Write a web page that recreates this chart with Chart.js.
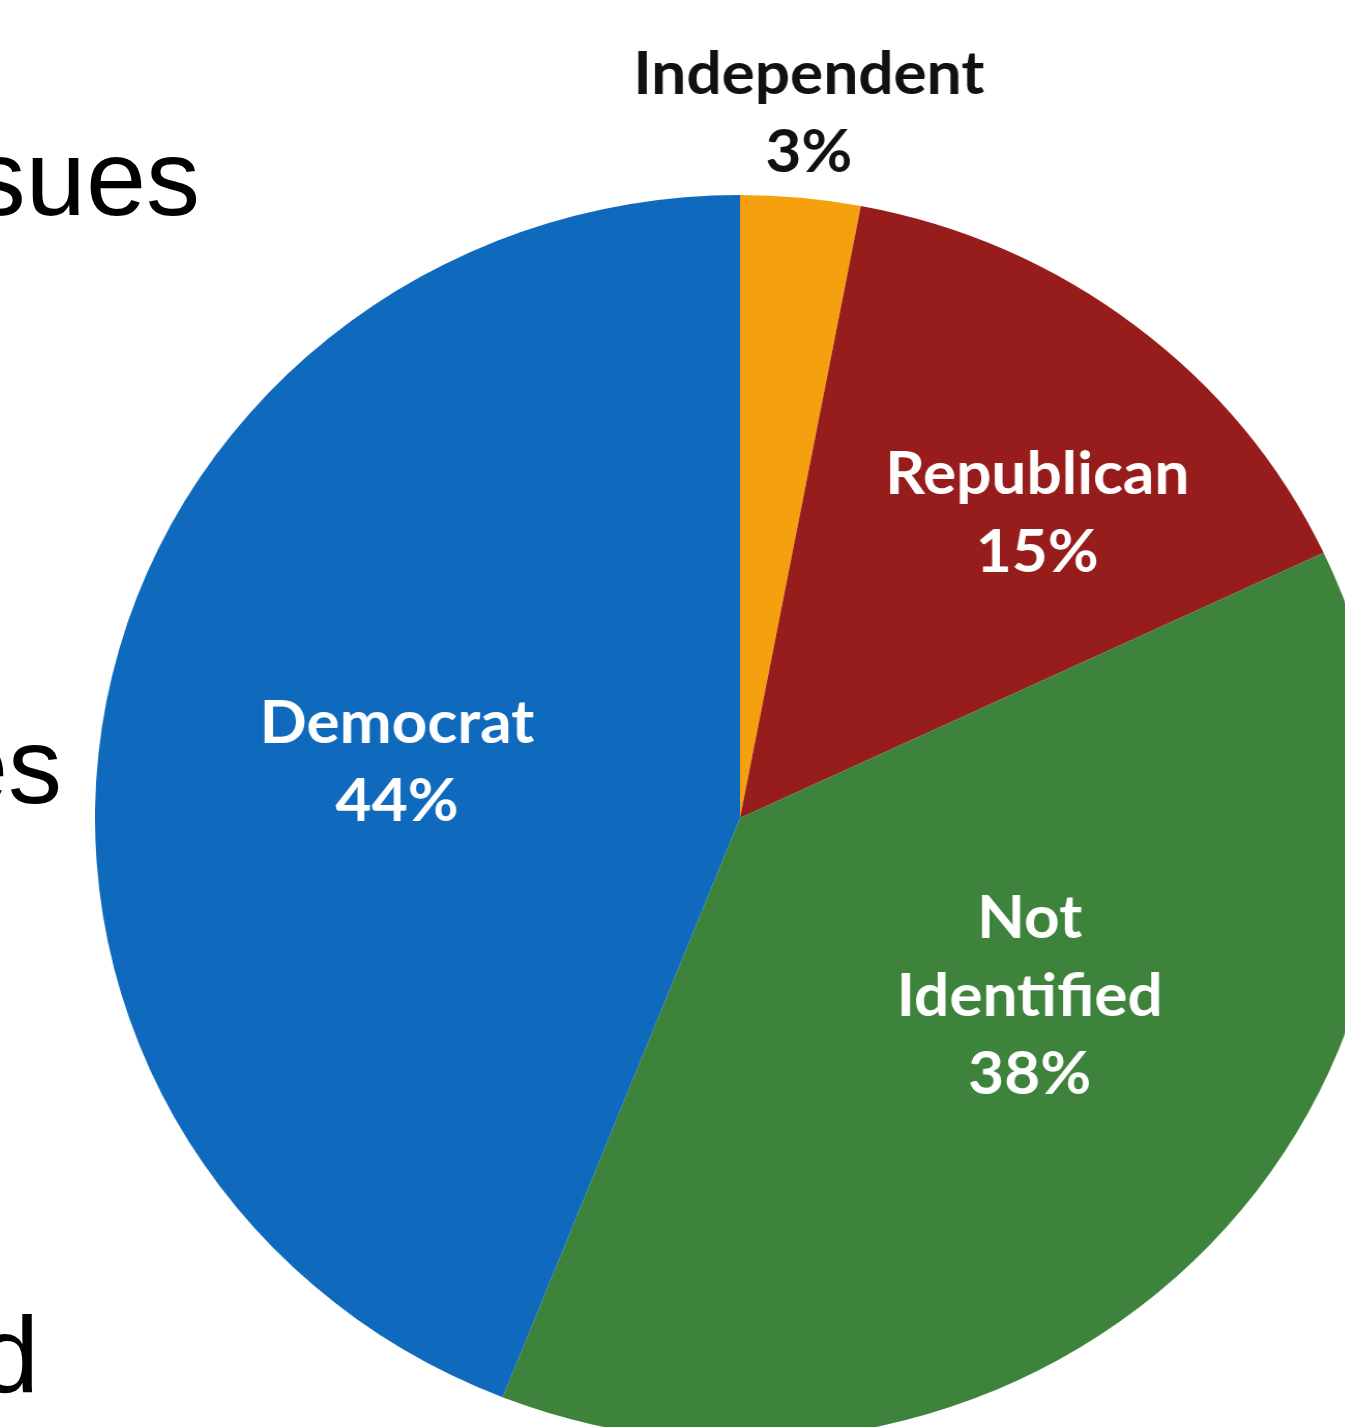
<!DOCTYPE html>
<html>
<head>
<meta charset="utf-8">
<script src="https://cdn.jsdelivr.net/npm/chart.js@4.4.1/dist/chart.umd.min.js"></script>
<style>
  html, body { margin: 0; padding: 0; background: #fff; overflow: hidden; width: 1345px; height: 1427px; }
  #wrap { position: absolute; left: 117px; top: 0px; width: 1246px; height: 1441px;
          transform: scaleX(1.0353); transform-origin: 623px 818px; }
  .slide { position: absolute; font-family: "Liberation Sans", Arial, sans-serif; font-size: 108px;
           line-height: 108px; color: #000; white-space: nowrap; text-align: right; }
</style>
</head>
<body>
<div class="slide" style="right:1145px; top:124px;">sues</div>
<div class="slide" style="right:1283px; top:712px;">es</div>
<div class="slide" style="right:1306px; top:1301px;">d</div>
<div id="wrap"><canvas id="pieChart" width="1246" height="1441"></canvas></div>
<script>
const partidos = ["Independent", "Republican", "Not Identified", "Democrat"];
const porcentajes = [3, 15, 38, 44];
const etiquetas = [["Independent", "3%"], ["Republican", "15%"], ["Not", "Identified", "38%"], ["Democrat", "44%"]];
const colores = ["#F5A00E", "#971C1C", "#3E833B", "#0F6ABD"];
const coloresTexto = ["#111111", "#ffffff", "#ffffff", "#ffffff"];
// posición de cada etiqueta: fracción del radio y giro respecto al centro del sector (grados)
const posEtiquetas = [[1.135, 0], [0.672, 5.5], [0.533, -10.6], [0.539, -1.4]];

const etiquetasPlugin = {
    id: "etiquetas",
    afterDatasetsDraw(chart) {
        const ctx = chart.ctx;
        const meta = chart.getDatasetMeta(0);
        ctx.save();
        ctx.font = "bold 60px Lato";
        ctx.textAlign = "center";
        ctx.textBaseline = "middle";
        meta.data.forEach((arc, i) => {
            const [frac, giro] = posEtiquetas[i];
            const ang = (arc.startAngle + arc.endAngle) / 2 + giro * Math.PI / 180;
            const cx = arc.x + Math.cos(ang) * arc.outerRadius * frac;
            const cy = arc.y + Math.sin(ang) * arc.outerRadius * frac;
            const lineas = etiquetas[i];
            const paso = 78;
            ctx.fillStyle = coloresTexto[i];
            lineas.forEach((t, j) => {
                ctx.fillText(t, cx, cy + (j - (lineas.length - 1) / 2) * paso);
            });
        });
        ctx.restore();
    }
};

const ctx = document.getElementById("pieChart").getContext("2d");
new Chart(ctx, {
    type: "pie",
    data: {
        labels: partidos,
        datasets: [{
            data: porcentajes,
            backgroundColor: colores,
            borderWidth: 0,
        }]
    },
    options: {
        responsive: false,
        animation: false,
        layout: { padding: { top: 195, left: 0, right: 0, bottom: 0 } },
        plugins: {
            legend: { display: false },
            tooltip: { enabled: false },
            title: { display: false }
        }
    },
    plugins: [etiquetasPlugin]
});
</script>
</body>
</html>
